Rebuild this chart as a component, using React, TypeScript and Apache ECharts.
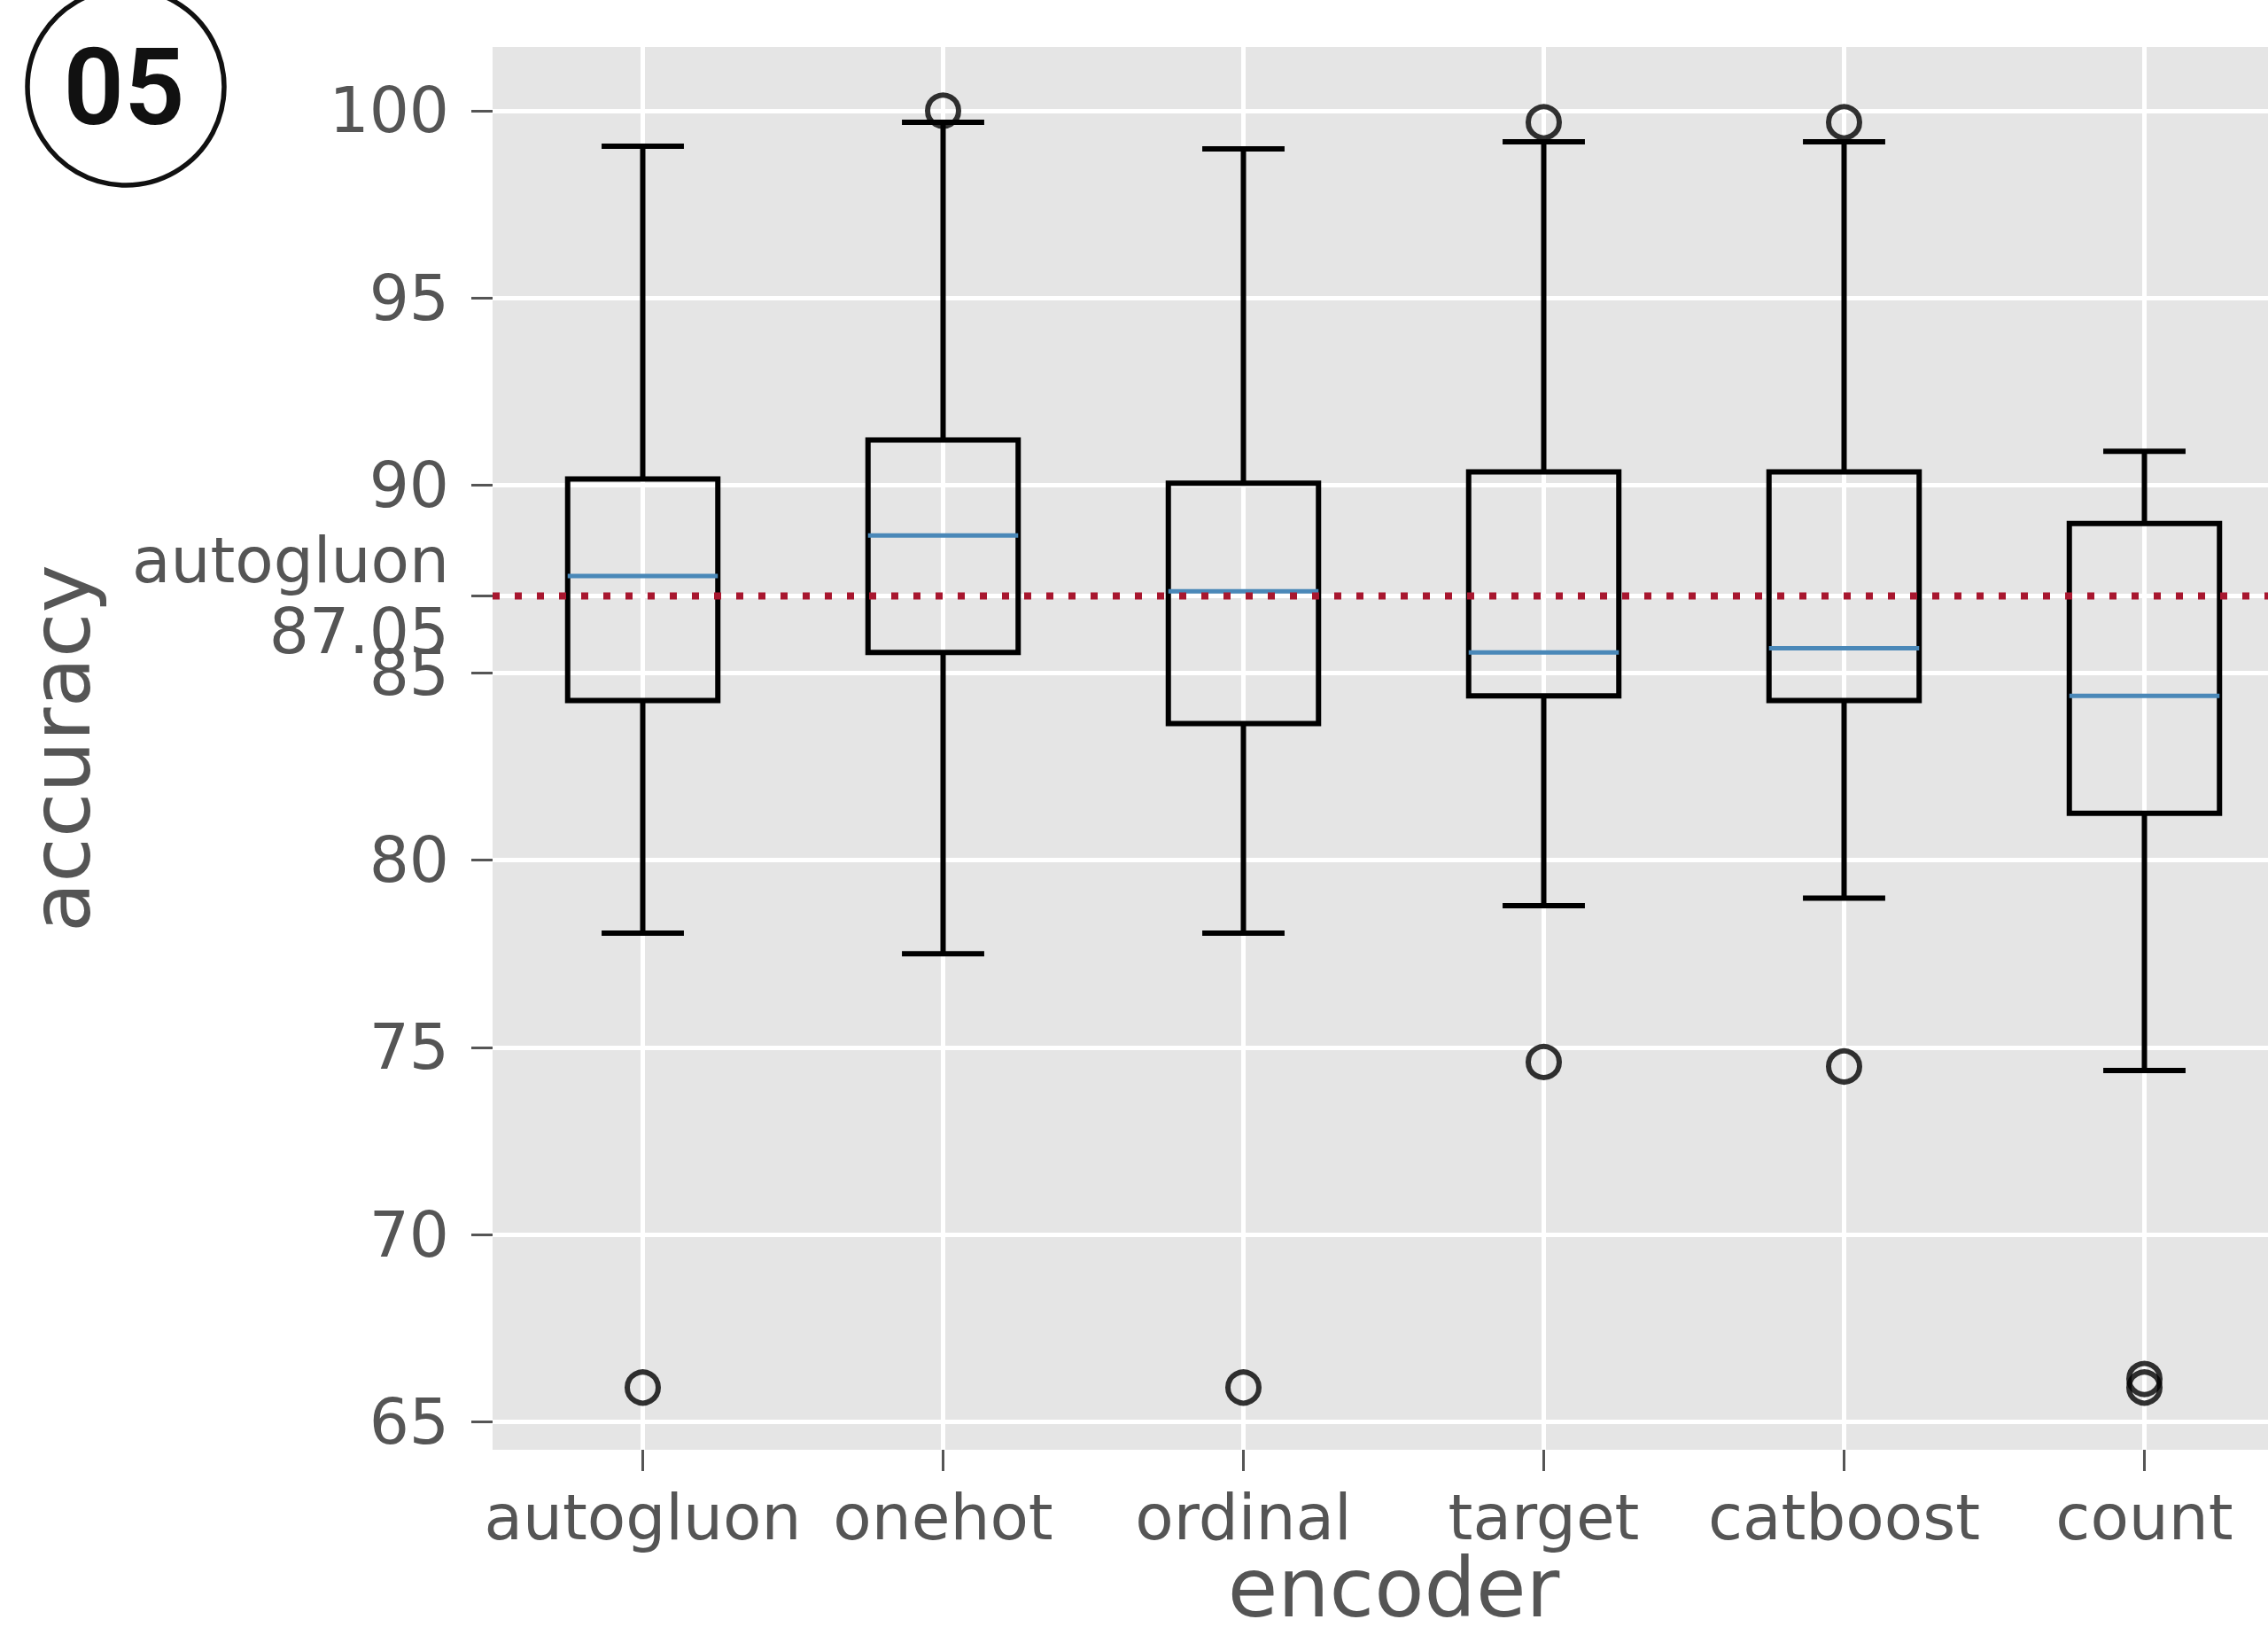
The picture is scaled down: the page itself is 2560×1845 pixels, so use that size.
import React, { useEffect, useRef } from "react";
import * as echarts from "echarts";

// ---- data ----
const categories = ["autogluon", "onehot", "ordinal", "target", "catboost", "count"];
const whiskerLow = [78.05, 77.5, 78.05, 78.78, 78.98, 74.38];
const q1 = [84.26, 85.54, 83.64, 84.38, 84.26, 81.25];
const medians = [87.58, 88.66, 87.17, 85.54, 85.65, 84.38];
const q3 = [90.17, 91.21, 90.06, 90.36, 90.36, 88.98];
const whiskerHigh = [99.05, 99.69, 98.98, 99.17, 99.17, 90.91];
const outlierCategory = ["autogluon", "onehot", "ordinal", "target", "target", "catboost", "catboost", "count", "count"];
const outlierValue = [65.92, 100.0, 65.92, 99.69, 74.61, 99.69, 74.49, 66.15, 65.92];
const yTicks = [65, 70, 75, 80, 85, 87.05, 90, 95, 100];
const baselineName = "autogluon";
const baselineValue = 87.05;
const yMin = 64.26;
const yMax = 101.7;

const TICK_COLOR = "#555555";
const FONT = "DejaVu Sans";

export default function App() {
  const ref = useRef<HTMLDivElement>(null);

  useEffect(() => {
    if (!ref.current) return;
    const chart = echarts.init(ref.current, null, { renderer: "svg" });

    const positions = categories.map((_, i) => i + 1);
    const boxData = categories.map((_, i) => [
      i + 1,
      whiskerLow[i],
      q1[i],
      medians[i],
      q3[i],
      whiskerHigh[i],
    ]);
    const outlierData = outlierCategory.map((c, i) => [categories.indexOf(c) + 1, outlierValue[i]]);

    const option: any = {
      animation: false,
      backgroundColor: "#ffffff",
      grid: {
        left: 556,
        right: -30,
        top: 53,
        bottom: 209,
        show: true,
        backgroundColor: "#E5E5E5",
        borderWidth: 0,
        containLabel: false,
        outerBoundsMode: "none",
      },
      xAxis: {
        type: "value",
        min: 0.5,
        max: 6.5,
        axisLine: { show: false },
        axisTick: {
          show: true,
          length: 24,
          customValues: positions,
          lineStyle: { color: TICK_COLOR, width: 3 },
        },
        axisLabel: {
          customValues: positions,
          formatter: (v: number) => categories[Math.round(v) - 1] ?? "",
          color: TICK_COLOR,
          fontSize: 71,
          fontFamily: FONT,
          margin: 41,
        },
        splitLine: { show: true, lineStyle: { color: "#ffffff", width: 5 } },
        name: "encoder",
        nameLocation: "middle",
        nameMoveOverlap: false,
        nameGap: 110,
        nameTextStyle: { color: TICK_COLOR, fontSize: 92, fontFamily: FONT },
      },
      yAxis: {
        type: "value",
        min: yMin,
        max: yMax,
        axisLine: { show: false },
        axisTick: {
          show: true,
          length: 24,
          customValues: yTicks,
          lineStyle: { color: TICK_COLOR, width: 3 },
        },
        axisLabel: {
          customValues: yTicks,
          formatter: (v: number) =>
            Math.abs(v - baselineValue) < 1e-6 ? `${baselineName}\n${baselineValue}` : String(v),
          color: TICK_COLOR,
          fontSize: 71,
          fontFamily: FONT,
          margin: 49,
          lineHeight: 80,
        },
        splitLine: { show: true, lineStyle: { color: "#ffffff", width: 5 } },
        name: "accuracy",
        nameLocation: "middle",
        nameGap: 441,
        nameTextStyle: { color: TICK_COLOR, fontSize: 92, fontFamily: FONT },
      },
      series: [
        {
          type: "custom",
          name: "box",
          z: 3,
          data: boxData,
          encode: { x: 0, y: [1, 2, 3, 4, 5] },
          renderItem: (params: any, api: any) => {
            const x = api.value(0);
            const lo = api.value(1);
            const b1 = api.value(2);
            const med = api.value(3);
            const b3 = api.value(4);
            const hi = api.value(5);
            const unit = api.size([1, 0])[0];
            const boxHalf = unit * 0.25;
            const capHalf = unit * 0.137;
            const pLo = api.coord([x, lo]);
            const p1 = api.coord([x, b1]);
            const pm = api.coord([x, med]);
            const p3 = api.coord([x, b3]);
            const pHi = api.coord([x, hi]);
            const cx = pLo[0];
            const lineStyle = { stroke: "#000000", lineWidth: 6, fill: "none" };
            return {
              type: "group",
              children: [
                { type: "line", shape: { x1: cx, y1: pLo[1], x2: cx, y2: p1[1] }, style: lineStyle },
                { type: "line", shape: { x1: cx, y1: p3[1], x2: cx, y2: pHi[1] }, style: lineStyle },
                { type: "line", shape: { x1: cx - capHalf, y1: pLo[1], x2: cx + capHalf, y2: pLo[1] }, style: lineStyle },
                { type: "line", shape: { x1: cx - capHalf, y1: pHi[1], x2: cx + capHalf, y2: pHi[1] }, style: lineStyle },
                {
                  type: "rect",
                  shape: { x: cx - boxHalf, y: p3[1], width: boxHalf * 2, height: p1[1] - p3[1] },
                  style: { stroke: "#000000", lineWidth: 6, fill: "none" },
                },
                {
                  type: "line",
                  shape: { x1: cx - boxHalf, y1: pm[1], x2: cx + boxHalf, y2: pm[1] },
                  style: { stroke: "#4a88b8", lineWidth: 5, fill: "none" },
                },
              ],
            };
          },
        },
        {
          type: "scatter",
          name: "outliers",
          z: 4,
          data: outlierData,
          symbol: "circle",
          symbolSize: 35,
          itemStyle: { color: "rgba(0,0,0,0)", borderColor: "#000000", borderWidth: 6 },
        },
        {
          type: "custom",
          name: "baseline",
          z: 5,
          data: [[0.5, baselineValue]],
          encode: { x: 0, y: 1 },
          renderItem: (params: any, api: any) => {
            const cs = params.coordSys;
            const p = api.coord([api.value(0), api.value(1)]);
            return {
              type: "line",
              shape: { x1: cs.x, y1: p[1], x2: cs.x + cs.width, y2: p[1] },
              style: { stroke: "#a8172f", lineWidth: 8, lineDash: [8, 17], fill: "none" },
            };
          },
        },
      ],
      graphic: [
        {
          type: "circle",
          shape: { cx: 142, cy: 98, r: 111 },
          style: { fill: "none", stroke: "#111111", lineWidth: 5.5 },
          z: 100,
        },
        {
          type: "text",
          x: 140,
          y: 99,
          z: 100,
          style: {
            text: "05",
            fontSize: 120,
            fontFamily: "Roboto",
            fontWeight: 600,
            fill: "#111111",
            align: "center",
            verticalAlign: "middle",
          },
        },
      ],
    };

    chart.setOption(option);
    return () => chart.dispose();
  }, []);

  return (
    <div
      ref={ref}
      style={{ position: "absolute", left: 0, top: 0, width: 2560, height: 1845, overflow: "hidden" }}
    />
  );
}
